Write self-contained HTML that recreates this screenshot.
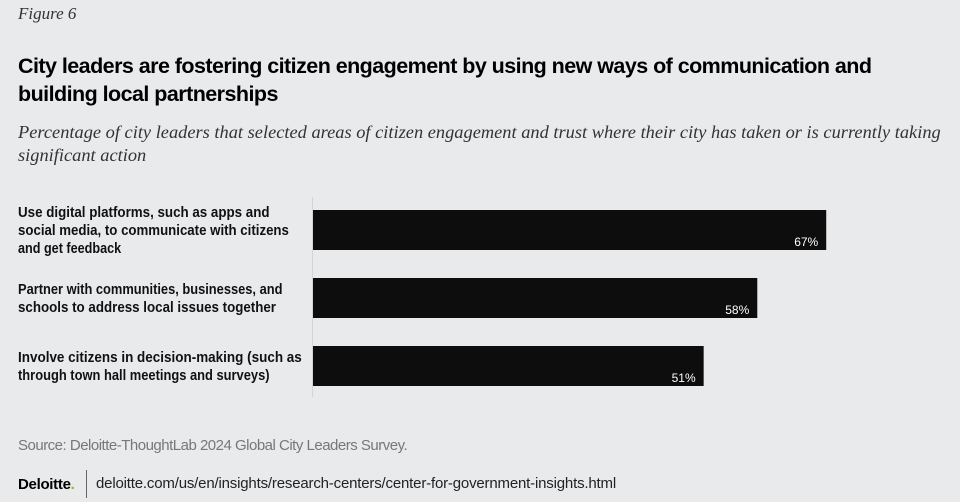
<!DOCTYPE html>
<html><head><meta charset="utf-8"><style>
body{margin:0;width:960px;height:502px;background:#e9eaeb;font-family:"Liberation Sans",sans-serif;position:relative;overflow:hidden;color:#111}
.a{position:absolute}
</style></head><body>
<div class="a" style="left:18px;top:4px;font:italic 17px 'Liberation Serif',serif;color:#333">Figure 6</div>
<div class="a" style="left:18px;top:52px;width:900px;font:bold 21.5px 'Liberation Sans',sans-serif;line-height:28px;letter-spacing:-0.55px;color:#000">City leaders are fostering citizen engagement by using new ways of communication and building local partnerships</div>
<div class="a" style="left:18px;top:121px;width:940px;font:italic 18.4px 'Liberation Serif',serif;line-height:23px;color:#333">Percentage of city leaders that selected areas of citizen engagement and trust where their city has taken or is currently taking significant action</div>
<svg class="a" style="left:0;top:0" width="960" height="502">
<line x1="312.5" y1="197" x2="312.5" y2="397" stroke="#d4d4d4" stroke-width="1"/>
<g id="g"></g>
</svg>
<div class="a" style="left:18px;top:437px;font-size:15px;color:#777;letter-spacing:-0.5px">Source: Deloitte-ThoughtLab 2024 Global City Leaders Survey.</div>
<div class="a" style="left:18px;top:476px;font-weight:900;font-size:15px;color:#000;letter-spacing:-0.3px">Deloitte<span style="color:#86bc25">.</span></div>
<div class="a" style="left:86px;top:470px;width:1px;height:28px;background:#666"></div>
<div class="a" style="left:96px;top:475px;font-size:15px;color:#222;letter-spacing:-0.18px">deloitte.com/us/en/insights/research-centers/center-for-government-insights.html</div>
<script>
const categories=[["Use digital platforms, such as apps and","social media, to communicate with citizens","and get feedback"],["Partner with communities, businesses, and","schools to address local issues together"],["Involve citizens in decision-making (such as","through town hall meetings and surveys)"]];
const values=[67,58,51];
const labels=["67%","58%","51%"];
const NS="http://www.w3.org/2000/svg",g=document.getElementById("g");
const x=v=>313+v*7.66, y=i=>210+i*68, bh=40;
values.forEach((v,i)=>{
 const r=document.createElementNS(NS,"rect");
 r.setAttribute("x",313);r.setAttribute("y",y(i));r.setAttribute("width",x(v)-313);r.setAttribute("height",bh);r.setAttribute("fill","#0d0d0d");
 
 
 g.appendChild(r);
 const t=document.createElementNS(NS,"text");
 t.setAttribute("x",x(v)-8);t.setAttribute("y",y(i)+36);t.setAttribute("text-anchor","end");t.setAttribute("fill","#fff");t.setAttribute("font-size","12");t.setAttribute("font-family","Liberation Sans, sans-serif");
 t.textContent=labels[i];
 
 
 g.appendChild(t);
 const lines=categories[i];const n=lines.length;const top=y(i)+bh/2-n*18/2;
 lines.forEach((l,j)=>{
  const c=document.createElementNS(NS,"text");
  c.setAttribute("x",18);c.setAttribute("y",top+14+j*18);c.setAttribute("font-size","14.5");c.setAttribute("font-weight","bold");c.setAttribute("fill","#111");c.setAttribute("font-family","Liberation Sans, sans-serif");c.setAttribute("textLength",l.length*6.45);c.setAttribute("lengthAdjust","spacingAndGlyphs");
  c.textContent=l;
  
  
  g.appendChild(c);
 });
});
</script>
</body></html>
